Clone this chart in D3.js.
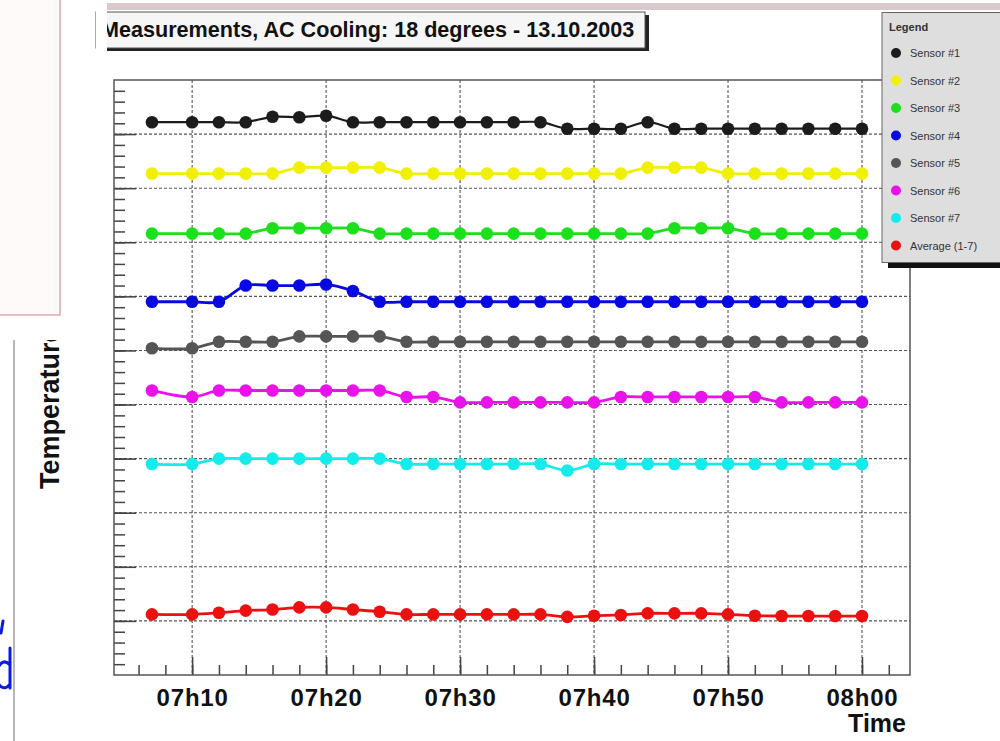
<!DOCTYPE html>
<html>
<head>
<meta charset="utf-8">
<script src="https://cdn.jsdelivr.net/npm/d3@7"></script>
<style>
  body { margin: 0; background: #fff; }
  svg { display: block; font-family: "Liberation Sans", Arial, sans-serif; }
</style>
</head>
<body>
<div class="chart"></div>
<script>
// Data
var times = ["07:07", "07:10", "07:12", "07:14", "07:16", "07:18", "07:20", "07:22", "07:24",
             "07:26", "07:28", "07:30", "07:32", "07:34", "07:36", "07:38", "07:40", "07:42",
             "07:44", "07:46", "07:48", "07:50", "07:52", "07:54", "07:56", "07:58", "08:00"];
var sensor1 = [21.61, 21.61, 21.61, 21.61, 21.66, 21.655, 21.67, 21.61, 21.61, 21.61, 21.61, 21.61, 21.61, 21.61,
               21.61, 21.55, 21.55, 21.55, 21.61, 21.55, 21.55, 21.55, 21.55, 21.55, 21.55, 21.55, 21.55];
var sensor2 = [21.135, 21.135, 21.135, 21.135, 21.135, 21.19, 21.19, 21.19, 21.19, 21.135, 21.135, 21.135, 21.135, 21.135,
               21.135, 21.135, 21.135, 21.135, 21.19, 21.19, 21.19, 21.135, 21.135, 21.135, 21.135, 21.135, 21.135];
var sensor3 = [20.58, 20.58, 20.58, 20.58, 20.63, 20.63, 20.63, 20.63, 20.58, 20.58, 20.58, 20.58, 20.58, 20.58,
               20.58, 20.58, 20.58, 20.58, 20.58, 20.63, 20.63, 20.63, 20.58, 20.58, 20.58, 20.58, 20.58];
var sensor4 = [19.95, 19.95, 19.95, 20.10, 20.10, 20.10, 20.11, 20.05, 19.95, 19.95, 19.95, 19.95, 19.95, 19.95,
               19.95, 19.95, 19.95, 19.95, 19.95, 19.95, 19.95, 19.95, 19.95, 19.95, 19.95, 19.95, 19.95];
var sensor5 = [19.52, 19.52, 19.58, 19.58, 19.58, 19.63, 19.63, 19.63, 19.63, 19.58, 19.58, 19.58, 19.58, 19.58,
               19.58, 19.58, 19.58, 19.58, 19.58, 19.58, 19.58, 19.58, 19.58, 19.58, 19.58, 19.58, 19.58];
var sensor6 = [19.13, 19.07, 19.13, 19.13, 19.13, 19.13, 19.13, 19.13, 19.13, 19.07, 19.07, 19.02, 19.02, 19.02,
               19.02, 19.02, 19.02, 19.07, 19.07, 19.07, 19.07, 19.07, 19.07, 19.02, 19.02, 19.02, 19.02];
var sensor7 = [18.45, 18.45, 18.50, 18.50, 18.50, 18.50, 18.50, 18.50, 18.50, 18.45, 18.45, 18.45, 18.45, 18.45,
               18.45, 18.39, 18.45, 18.45, 18.45, 18.45, 18.45, 18.45, 18.45, 18.45, 18.45, 18.45, 18.45];
var average = [17.06, 17.06, 17.075, 17.095, 17.105, 17.125, 17.125, 17.105, 17.085, 17.06, 17.06, 17.06, 17.06, 17.06,
               17.06, 17.037, 17.048, 17.055, 17.07, 17.07, 17.07, 17.06, 17.048, 17.045, 17.045, 17.045, 17.045];
var seriesNames = ["Sensor #1", "Sensor #2", "Sensor #3", "Sensor #4", "Sensor #5", "Sensor #6", "Sensor #7", "Average (1-7)"];
var seriesColors = ["#1c1c1c", "#f0f000", "#1de01d", "#0808e0", "#555555", "#ea12ea", "#14ecec", "#ec1010"];
var titleText = "Measurements, AC Cooling: 18 degrees - 13.10.2003";

var seriesValues = [sensor1, sensor2, sensor3, sensor4, sensor5, sensor6, sensor7, average];
var parseTime = d3.timeParse("%H:%M");
var timeDates = times.map(t => parseTime(t));

// Svg
var svgWidth = 1000, svgHeight = 741;
var frame = { left: 114, right: 910, top: 80, bottom: 675 };

var svg = d3.select(".chart")
  .append("svg")
  .attr("width", svgWidth)
  .attr("height", svgHeight);

var defs = svg.append("defs");
defs.append("clipPath").attr("id", "clip-title")
  .append("rect").attr("x", 107).attr("y", 0).attr("width", 893).attr("height", 60);
defs.append("clipPath").attr("id", "clip-ylabel")
  .append("rect").attr("x", 0).attr("y", 340).attr("width", 100).attr("height", 401);

// Slide bits around the picture
svg.append("rect")
  .attr("x", -2).attr("y", -2).attr("width", 62).attr("height", 317)
  .attr("fill", "#fffafa").attr("stroke", "#e3a7ae").attr("stroke-width", 1.5);
svg.append("line")
  .attr("x1", 14).attr("x2", 14).attr("y1", 340).attr("y2", 741)
  .attr("stroke", "#a39c9c").attr("stroke-width", 1.5);
svg.append("path")
  .attr("d", "M3,621 L1,633 M10,648 L10,688 M10,665 C4,658 -3,664 -3,675 C-3,688 5,691 10,684")
  .attr("fill", "none").attr("stroke", "#0a1ae0").attr("stroke-width", 3).attr("stroke-linecap", "round");
svg.append("rect")
  .attr("x", 107).attr("y", 3).attr("width", 893).attr("height", 7)
  .attr("fill", "#d9c9cd");

// Scales
var xScale = d3.scaleTime()
  .domain([new Date(1900, 0, 1, 7, 4, 10), new Date(1900, 0, 1, 8, 3, 35)])
  .range([frame.left, frame.right]);
var yScale = d3.scaleLinear()
  .domain([16.5, 22])
  .range([frame.bottom, frame.top]);

var plot = svg.append("g");

// Grid
var yGrid = d3.range(17, 21.75, 0.5);
plot.selectAll(".ygrid")
  .data(yGrid)
  .enter()
  .append("line")
  .attr("x1", frame.left).attr("x2", frame.right)
  .attr("y1", d => yScale(d)).attr("y2", d => yScale(d))
  .attr("stroke", "#555").attr("stroke-width", 1.1)
  .attr("stroke-dasharray", "3,2");
var xGrid = xScale.ticks(d3.timeMinute.every(10));
plot.selectAll(".xgrid")
  .data(xGrid)
  .enter()
  .append("line")
  .attr("x1", d => xScale(d)).attr("x2", d => xScale(d))
  .attr("y1", frame.top).attr("y2", frame.bottom)
  .attr("stroke", "#555").attr("stroke-width", 1.1)
  .attr("stroke-dasharray", "3,2");

// Axes (ticks point inwards, ROOT style)
var bottomMinor = d3.axisBottom(xScale)
  .ticks(d3.timeMinute.every(2))
  .tickSize(-10)
  .tickFormat("");
var bottomMajor = d3.axisBottom(xScale)
  .ticks(d3.timeMinute.every(10))
  .tickSize(-18)
  .tickPadding(14)
  .tickFormat(d3.timeFormat("%Hh%M"));
var leftMinor = d3.axisLeft(yScale)
  .tickValues(d3.range(16.6, 22, 0.1))
  .tickSize(-11)
  .tickFormat("");
var leftMajor = d3.axisLeft(yScale)
  .tickValues(yGrid)
  .tickSize(-22)
  .tickFormat("");

[bottomMinor, bottomMajor].forEach(ax => {
  plot.append("g")
    .attr("transform", `translate(0, ${frame.bottom})`)
    .call(ax)
    .call(g => g.select(".domain").remove())
    .call(g => g.selectAll(".tick line").attr("stroke", "#444").attr("stroke-width", 1.5));
});
[leftMinor, leftMajor].forEach(ax => {
  plot.append("g")
    .attr("transform", `translate(${frame.left}, 0)`)
    .call(ax)
    .call(g => g.select(".domain").remove())
    .call(g => g.selectAll(".tick line").attr("stroke", "#444").attr("stroke-width", 1.5));
});
plot.selectAll(".tick text")
  .attr("font-family", "'Liberation Sans', Arial, sans-serif")
  .attr("font-size", 24)
  .attr("font-weight", "bold")
  .attr("letter-spacing", 0.8)
  .attr("fill", "#111");

// Frame
plot.append("rect")
  .attr("x", frame.left).attr("y", frame.top)
  .attr("width", frame.right - frame.left).attr("height", frame.bottom - frame.top)
  .attr("fill", "none").attr("stroke", "#555").attr("stroke-width", 1.5);

// Series
var line = d3.line()
  .x((d, i) => xScale(timeDates[i]))
  .y(d => yScale(d))
  .curve(d3.curveCatmullRom.alpha(0.5));

seriesValues.forEach((vals, s) => {
  var g = plot.append("g").attr("class", "series");
  g.append("path")
    .attr("d", line(vals))
    .attr("fill", "none")
    .attr("stroke", seriesColors[s])
    .attr("stroke-width", s == 0 ? 2.2 : 2.8);
  g.selectAll("circle")
    .data(vals)
    .enter()
    .append("circle")
    .attr("cx", (d, i) => xScale(timeDates[i]))
    .attr("cy", d => yScale(d))
    .attr("r", 6.3)
    .attr("fill", seriesColors[s]);
});

// Axis titles
svg.append("text")
  .attr("x", 906).attr("y", 732)
  .attr("text-anchor", "end")
  .attr("font-size", 25).attr("font-weight", "bold").attr("fill", "#111")
  .text("Time");
svg.append("g").attr("clip-path", "url(#clip-ylabel)")
  .append("text")
  .attr("transform", "translate(59, 489) rotate(-90)")
  .attr("font-size", 27).attr("font-weight", "bold").attr("fill", "#111")
  .text("Temperature");

// Title box
svg.append("rect")
  .attr("x", 100).attr("y", 15).attr("width", 549).attr("height", 36)
  .attr("fill", "#222");
svg.append("rect")
  .attr("x", 96).attr("y", 12).attr("width", 549).attr("height", 36)
  .attr("fill", "#f6f6f6").attr("stroke", "#555").attr("stroke-width", 1);
svg.append("g").attr("clip-path", "url(#clip-title)")
  .append("text")
  .attr("x", 101).attr("y", 37)
  .attr("font-size", 21.6).attr("font-weight", "bold").attr("fill", "#111")
  .text(titleText);
svg.append("rect")
  .attr("x", 96).attr("y", 0).attr("width", 11).attr("height", 60)
  .attr("fill", "#fff");

// Legend
var legend = svg.append("g");
legend.append("rect")
  .attr("x", 888).attr("y", 16).attr("width", 120).attr("height", 252)
  .attr("fill", "#111");
legend.append("rect")
  .attr("x", 882).attr("y", 12.5).attr("width", 125).attr("height", 250)
  .attr("fill", "#dedede").attr("stroke", "#666").attr("stroke-width", 1);
legend.append("text")
  .attr("x", 889).attr("y", 31)
  .attr("font-size", 11).attr("font-weight", "bold").attr("fill", "#333")
  .text("Legend");
var entry = legend.selectAll(".entry")
  .data(seriesNames)
  .enter()
  .append("g")
  .attr("transform", (d, i) => `translate(0, ${53 + i * 27.5})`);
entry.append("circle")
  .attr("cx", 896).attr("cy", 0).attr("r", 5)
  .attr("fill", (d, i) => seriesColors[i]);
entry.append("text")
  .attr("x", 910).attr("y", 4)
  .attr("font-size", 11).attr("fill", "#333")
  .text(d => d);
</script>
</body>
</html>
